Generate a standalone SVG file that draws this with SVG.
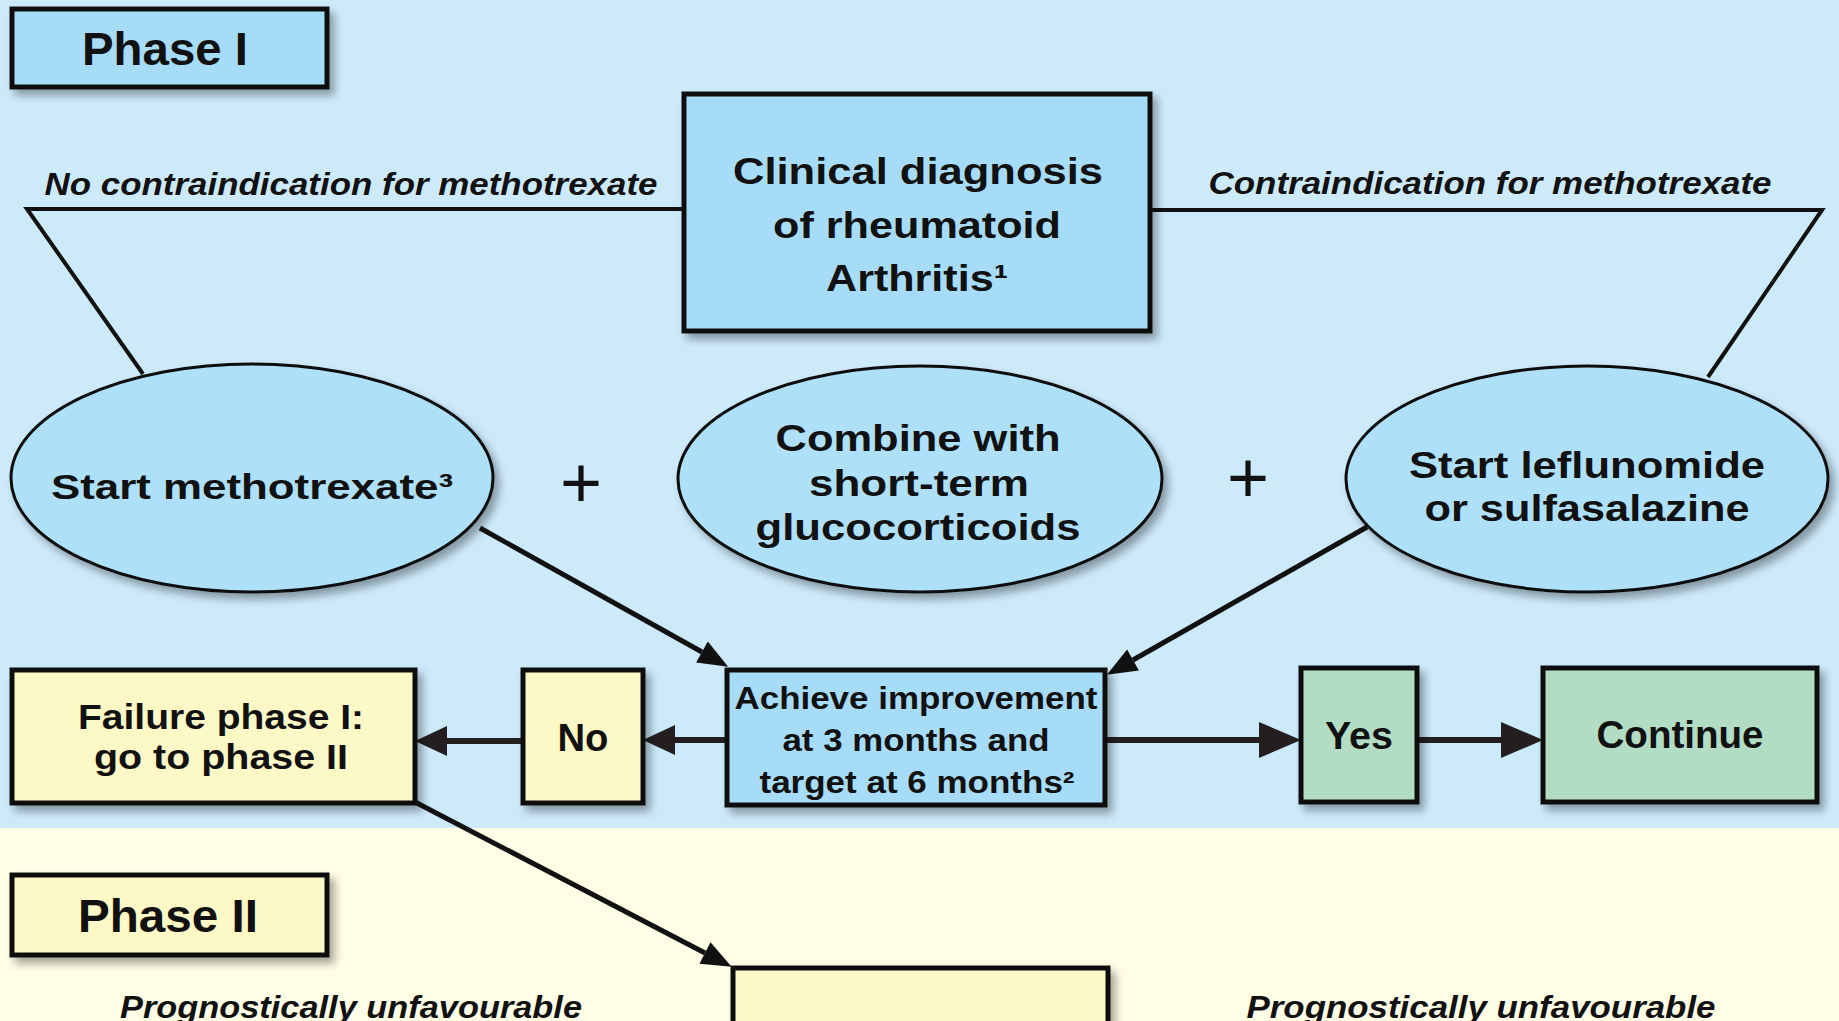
<svg xmlns="http://www.w3.org/2000/svg" width="1839" height="1021" viewBox="0 0 1839 1021">
<style>
.t{font-family:"Liberation Sans",Arial,sans-serif;font-weight:bold;fill:#111;text-anchor:middle}
.it{font-family:"Liberation Sans",Arial,sans-serif;font-weight:bold;font-style:italic;fill:#111;text-anchor:middle}
.pl{font-family:"Liberation Sans",Arial,sans-serif;font-weight:normal;fill:#111;text-anchor:middle}
.box{stroke:#111;stroke-width:5}
.blue{fill:#a6dcf8}
.ell{fill:#aee0f9;stroke:#111;stroke-width:3}
.yel{fill:#fdf9c6}
.grn{fill:#b3dcc5}
.ln{fill:none;stroke:#111;stroke-width:4;stroke-linejoin:miter}
.ar{fill:none;stroke:#231f20;stroke-width:6}
.ad{fill:none;stroke:#111;stroke-width:5}
</style>
<defs>
<filter id="sh" x="-10%" y="-10%" width="125%" height="130%">
<feDropShadow dx="5" dy="6" stdDeviation="4" flood-color="#000" flood-opacity="0.35"/>
</filter>
<marker id="mh" markerUnits="userSpaceOnUse" markerWidth="42" markerHeight="36" refX="0" refY="0" orient="auto" overflow="visible">
<path d="M0,-18 L42,0 L0,18 z" fill="#231f20"/>
</marker>
<marker id="ms" markerUnits="userSpaceOnUse" markerWidth="32" markerHeight="30" refX="0" refY="0" orient="auto" overflow="visible">
<path d="M0,-15 L32,0 L0,15 z" fill="#231f20"/>
</marker>
<marker id="md" markerUnits="userSpaceOnUse" markerWidth="30" markerHeight="24" refX="0" refY="0" orient="auto" overflow="visible">
<path d="M0,-12 L30,0 L0,12 z" fill="#111"/>
</marker>
</defs>
<rect x="0" y="0" width="1839" height="828" fill="#cdeafb"/>
<rect x="0" y="828" width="1839" height="193" fill="#fefde6"/>

<g id="connectors">
<polyline class="ln" points="684,209 27,209 143,374"/>
<polyline class="ln" points="1150,210 1822,210 1708,377"/>
<path class="ad" d="M480,528 L702,652" marker-end="url(#md)"/>
<path class="ad" d="M1367,527 L1133,660" marker-end="url(#md)"/>
<path class="ar" d="M727,740 L675,740" marker-end="url(#ms)"/>
<path class="ar" d="M522,741 L447,741" marker-end="url(#ms)"/>
<path class="ar" d="M1105,740 L1259,740" marker-end="url(#mh)"/>
<path class="ar" d="M1417,740 L1501,740" marker-end="url(#mh)"/>
<path class="ad" d="M415,802 L705,953" marker-end="url(#md)"/>
</g>

<g id="phase1">
<rect class="box blue" x="12" y="9" width="315" height="78" filter="url(#sh)"/>
<text class="t" x="165" y="65" font-size="47" textLength="166" lengthAdjust="spacingAndGlyphs">Phase I</text>
</g>

<g id="label-no-contra">
<text class="it" x="351" y="195" font-size="31" textLength="613" lengthAdjust="spacingAndGlyphs">No contraindication for methotrexate</text>
</g>
<g id="label-contra">
<text class="it" x="1490" y="194" font-size="31" textLength="563" lengthAdjust="spacingAndGlyphs">Contraindication for methotrexate</text>
</g>

<g id="diagnosis">
<rect class="box blue" x="684" y="94" width="466" height="237" filter="url(#sh)"/>
<text class="t" x="918" y="184" font-size="37" textLength="370" lengthAdjust="spacingAndGlyphs">Clinical diagnosis</text>
<text class="t" x="917" y="238" font-size="37" textLength="288" lengthAdjust="spacingAndGlyphs">of rheumatoid</text>
<text class="t" x="917" y="291" font-size="37" textLength="182" lengthAdjust="spacingAndGlyphs">Arthritis¹</text>
</g>

<g id="mtx">
<ellipse class="ell" cx="252" cy="478" rx="241" ry="114" filter="url(#sh)"/>
<text class="t" x="252" y="499" font-size="35" textLength="402" lengthAdjust="spacingAndGlyphs">Start methotrexate³</text>
</g>

<g id="plus1"><text class="pl" x="581" y="507" font-size="72">+</text></g>
<g id="plus2"><text class="pl" x="1248" y="502" font-size="72">+</text></g>

<g id="gc">
<ellipse class="ell" cx="920" cy="479" rx="242" ry="113" filter="url(#sh)"/>
<text class="t" x="918" y="451" font-size="37" textLength="285" lengthAdjust="spacingAndGlyphs">Combine with</text>
<text class="t" x="919" y="496" font-size="37" textLength="220" lengthAdjust="spacingAndGlyphs">short-term</text>
<text class="t" x="918" y="540" font-size="37" textLength="325" lengthAdjust="spacingAndGlyphs">glucocorticoids</text>
</g>

<g id="lef">
<ellipse class="ell" cx="1587" cy="479" rx="241" ry="113" filter="url(#sh)"/>
<text class="t" x="1587" y="478" font-size="37" textLength="356" lengthAdjust="spacingAndGlyphs">Start leflunomide</text>
<text class="t" x="1587" y="521" font-size="37" textLength="325" lengthAdjust="spacingAndGlyphs">or sulfasalazine</text>
</g>

<g id="achieve">
<rect class="box blue" x="727" y="670" width="378" height="135" filter="url(#sh)"/>
<text class="t" x="916" y="709" font-size="31" textLength="363" lengthAdjust="spacingAndGlyphs">Achieve improvement</text>
<text class="t" x="916" y="751" font-size="31" textLength="267" lengthAdjust="spacingAndGlyphs">at 3 months and</text>
<text class="t" x="917" y="793" font-size="31" textLength="315" lengthAdjust="spacingAndGlyphs">target at 6 months²</text>
</g>

<g id="no">
<rect class="box yel" x="523" y="670" width="120" height="133" filter="url(#sh)"/>
<text class="t" x="583" y="751" font-size="39" textLength="51" lengthAdjust="spacingAndGlyphs">No</text>
</g>

<g id="failure">
<rect class="box yel" x="12" y="670" width="403" height="133" filter="url(#sh)"/>
<text class="t" x="221" y="729" font-size="35" textLength="286" lengthAdjust="spacingAndGlyphs">Failure phase I:</text>
<text class="t" x="221" y="769" font-size="35" textLength="254" lengthAdjust="spacingAndGlyphs">go to phase II</text>
</g>

<g id="yes">
<rect class="box grn" x="1301" y="668" width="116" height="134" filter="url(#sh)"/>
<text class="t" x="1359" y="749" font-size="38" textLength="68" lengthAdjust="spacingAndGlyphs">Yes</text>
</g>

<g id="continue">
<rect class="box grn" x="1543" y="668" width="274" height="134" filter="url(#sh)"/>
<text class="t" x="1680" y="748" font-size="38" textLength="167" lengthAdjust="spacingAndGlyphs">Continue</text>
</g>

<g id="phase2">
<rect class="box yel" x="12" y="875" width="315" height="80" filter="url(#sh)"/>
<text class="t" x="168" y="932" font-size="46" textLength="180" lengthAdjust="spacingAndGlyphs">Phase II</text>
</g>

<g id="label-prog-left">
<text class="it" x="351" y="1018" font-size="32" textLength="462" lengthAdjust="spacingAndGlyphs">Prognostically unfavourable</text>
</g>
<g id="label-prog-right">
<text class="it" x="1481" y="1018" font-size="32" textLength="469" lengthAdjust="spacingAndGlyphs">Prognostically unfavourable</text>
</g>

<g id="phase2-box">
<rect class="box yel" x="733" y="968" width="375" height="80" filter="url(#sh)"/>
</g>
</svg>
